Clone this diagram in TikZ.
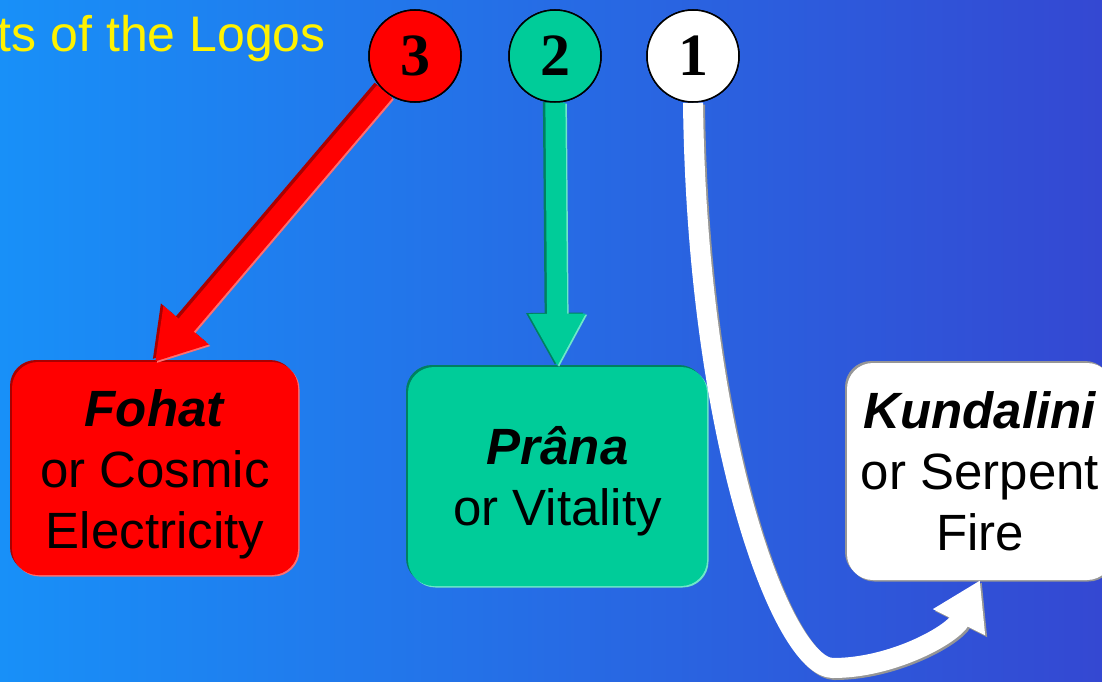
\documentclass[tikz,border=0pt]{standalone}
\usepackage{fontspec}
\setmainfont{Liberation Sans}
\newfontfamily\numfont{Liberation Serif}
\usetikzlibrary{arrows.meta,shadows}

\definecolor{bgleft}{RGB}{24,144,248}
\definecolor{bgright}{RGB}{52,72,210}
\definecolor{fohatred}{RGB}{255,0,0}
\definecolor{fohatdark}{RGB}{170,0,0}
\definecolor{fohatlight}{RGB}{255,110,110}
\definecolor{pranagreen}{RGB}{0,204,153}
\definecolor{pranadark}{RGB}{0,128,96}
\definecolor{pranalight}{RGB}{110,232,200}
\definecolor{fireedge}{RGB}{150,150,150}

\tikzset{
  boxtext/.style={font=\fontsize{51}{61}\selectfont, align=center, text=black},
  forcebox/.style n args={3}{fill=#1, rounded corners=26pt, inner sep=0pt,
    general shadow={fill=#2, shadow xshift=-2pt, shadow yshift=2pt},
    general shadow={fill=#3, shadow xshift=1.5pt, shadow yshift=-1.5pt}, boxtext},
  numdisc/.style={circle, draw=black, line width=1.5pt, fill=#1, minimum size=92pt,
    inner sep=0pt, font=\numfont\bfseries\fontsize{60}{60}\selectfont},
  forcearrow/.style={draw=#1, line width=20pt},
}

\begin{document}
\begin{tikzpicture}[x=1pt,y=-1pt]
  \useasboundingbox (0,0) rectangle (1102,682);
  \shade[left color=bgleft, right color=bgright] (0,0) rectangle (1102,682);

  \node[anchor=base east, inner sep=0pt, text=yellow, font=\fontsize{50}{60}\selectfont]
    (title) at (326,52) {ts of the Logos};

  % the three forces
  \node[forcebox={fohatred}{fohatdark}{fohatlight}, minimum width=286pt, minimum height=213pt]
    (fohat) at (155,468.5) {\rule{0pt}{48pt}\textbf{\textit{Fohat}}\\or Cosmic\\Electricity};
  \node[forcebox={pranagreen}{pranadark}{pranalight}, minimum width=299pt, minimum height=219pt]
    (prana) at (557.5,476.5) {\rule{0pt}{48pt}\textbf{\textit{Prâna}}\\or Vitality};
  \node[forcebox={white}{fireedge}{fireedge}, minimum width=266pt, minimum height=217pt]
    (kund) at (980,471.5) {\textbf{\textit{Kundalini}}\\or Serpent\\Fire};

  % the aspects
  \node[numdisc=fohatred] (n3) at (415,56) {3};
  \node[numdisc=pranagreen] (n2) at (555,56) {2};
  \node[numdisc=white] (n1) at (693,56) {1};

  \coordinate (dip) at (833,668);

  \foreach \edge/\sx/\sy in {fohatdark/-2.5/2.5, fohatlight/1.5/-1.5, fohatred/0/0}
    \draw[forcearrow=\edge, transform canvas={shift={(\sx pt,\sy pt)}},
      -{Triangle[width=56pt,length=48pt]}] (n3) -- (fohat.north);
  \foreach \edge/\sx/\sy in {pranadark/-2.5/1, pranalight/1.5/-1, pranagreen/0/0}
    \draw[forcearrow=\edge, transform canvas={shift={(\sx pt,\sy pt)}},
      -{Triangle[width=53pt,length=53pt]}] (n2) -- (prana.north);
  \foreach \edge/\sx/\sy in {fireedge/2/-2, white/0/0}
    \draw[forcearrow=\edge, transform canvas={shift={(\sx pt,\sy pt)}},
      -{Triangle[width=55pt,length=47pt]}] (n1.south)
      .. controls +(4,340) and +(-50,0) .. (dip)
      .. controls +(60,0) and +(-27,54) .. (kund.south);

  % discs on top of the arrow ends
  \node[numdisc=fohatred] at (n3) {3};
  \node[numdisc=pranagreen] at (n2) {2};
  \node[numdisc=white] at (n1) {1};
\end{tikzpicture}
\end{document}
